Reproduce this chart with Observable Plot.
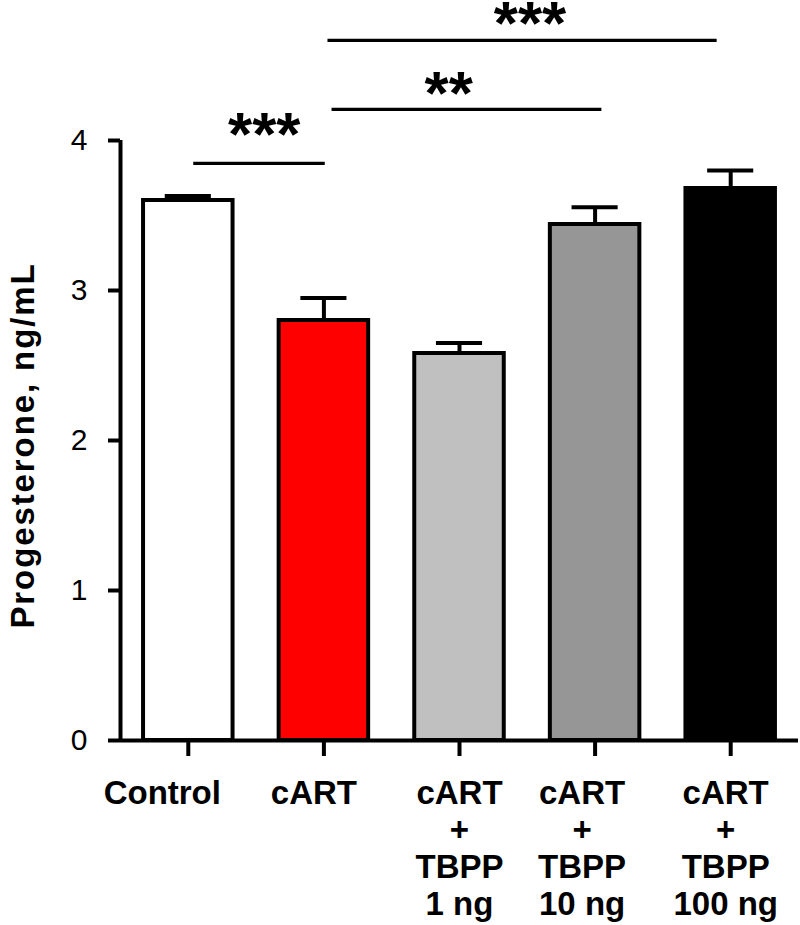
<!DOCTYPE html>
<html>
<head>
<meta charset="utf-8">
<script src="https://cdn.jsdelivr.net/npm/d3@7"></script>
<script src="https://cdn.jsdelivr.net/npm/@observablehq/plot@0.6"></script>
<style>
  html, body { margin: 0; padding: 0; background: #fff; }
  #chart { width: 800px; height: 925px; }
</style>
</head>
<body>
<div id="chart"></div>
<script>
// ---- data ----
const groups = ["Control", "cART", "cART + TBPP 1 ng", "cART + TBPP 10 ng", "cART + TBPP 100 ng"];
const tickLabels = ["Control", "cART", "cART\n+\nTBPP\n1 ng", "cART\n+\nTBPP\n10 ng", "cART\n+\nTBPP\n100 ng"];
const means = [3.60, 2.80, 2.58, 3.44, 3.68];
const sems = [0.03, 0.15, 0.07, 0.115, 0.12];
const barColors = ["#ffffff", "#ff0000", "#c0c0c0", "#969696", "#000000"];
const yTicks = [0, 1, 2, 3, 4];

// significance brackets (x in group-index units, y in ng/mL)
const sigText = ["***", "**", "***"];
const sigFrom = [0.04, 1.06, 1.03];
const sigTo = [1.01, 3.05, 3.90];
const sigLevel = [3.847, 4.207, 4.667];
const sigLabelX = [0.56, 1.92, 2.52];
const sigLabelY = [4.10, 4.373, 4.845];

// ---- build tables ----
const data = groups.map((g, i) => ({i, group: g, label: tickLabels[i], mean: means[i], sem: sems[i], fill: barColors[i]}));
const sig = sigText.map((t, k) => ({text: t, x1: sigFrom[k], x2: sigTo[k], y: sigLevel[k], lx: sigLabelX[k], ly: sigLabelY[k]}));

// ---- layout ----
const halfBar = 0.33;
const halfCap = 0.17;
const labelNudge = [-26, -10, 0, -13, -5];
const font = "Arial, 'Liberation Sans', Helvetica, sans-serif";

const chart = Plot.plot({
  width: 800,
  height: 925,
  marginTop: 140,
  marginBottom: 185,
  marginLeft: 120,
  marginRight: 2,
  style: {fontFamily: font, background: "white", color: "black", overflow: "visible"},
  x: {type: "linear", domain: [-0.5, 4.5]},
  y: {domain: [0, 4]},
  marks: [
    // y axis ticks
    Plot.axisY(yTicks, {tickSize: 12, strokeWidth: 4, fill: "none", label: null}),
    // y tick labels
    Plot.text(yTicks, {y: d => d, text: d => String(d), frameAnchor: "left", textAnchor: "end", dx: -33, fontSize: 30, fill: "black"}),
    // x axis ticks
    Plot.axisX(d3.range(groups.length), {tickSize: 16, strokeWidth: 4, fill: "none", label: null}),
    // error bars
    Plot.ruleX(data, {x: "i", y1: "mean", y2: d => d.mean + d.sem, stroke: "black", strokeWidth: 4}),
    Plot.ruleY(data, {y: d => d.mean + d.sem, x1: d => d.i - halfCap, x2: d => d.i + halfCap, stroke: "black", strokeWidth: 4}),
    // bars
    Plot.rect(data, {x1: d => d.i - halfBar, x2: d => d.i + halfBar, y1: 0, y2: "mean", fill: "fill", stroke: "black", strokeWidth: 4}),
    // axis lines
    Plot.ruleX([-0.5], {y1: 0, y2: 4, stroke: "black", strokeWidth: 4}),
    Plot.ruleY([0], {stroke: "black", strokeWidth: 4}),
    // x tick labels
    ...data.map((d, k) => Plot.text([d], {
      x: "i", text: "label", frameAnchor: "bottom", lineAnchor: "top",
      dy: 37, dx: labelNudge[k], fontSize: 33, fontWeight: "bold", lineHeight: 37 / 33, fill: "black"
    })),
    // y axis title
    Plot.text(["Progesterone, ng/mL"], {
      text: d => d, frameAnchor: "left", rotate: -90, dx: -87, dy: 5,
      lineAnchor: "bottom", textAnchor: "middle", fontSize: 33, fontWeight: "bold", fill: "black"
    }),
    // significance brackets
    Plot.ruleY(sig, {y: "y", x1: "x1", x2: "x2", stroke: "black", strokeWidth: 3.3}),
    Plot.text(sig, {x: "lx", y: "ly", text: "text", fontSize: 62, fontWeight: "bold", lineAnchor: "middle", dy: 10, fill: "black"})
  ]
});

// stretch the y-axis title slightly, as in the reference
chart.querySelectorAll("text").forEach(t => {
  if (t.textContent === "Progesterone, ng/mL") t.setAttribute("letter-spacing", "1.9px");
});

document.getElementById("chart").append(chart);
</script>
</body>
</html>
